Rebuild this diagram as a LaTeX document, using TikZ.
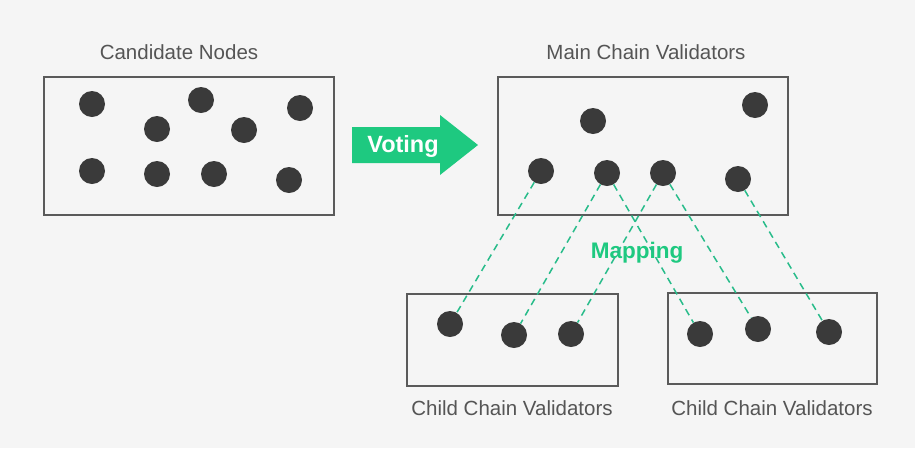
\documentclass[tikz,border=0pt]{standalone}
\usepackage{fontspec}
\setmainfont{Liberation Sans}
\usetikzlibrary{positioning}
\definecolor{bggray}{RGB}{245,245,245}
\definecolor{dotgray}{RGB}{58,58,58}
\definecolor{framegray}{RGB}{90,90,90}
\definecolor{textgray}{RGB}{85,85,85}
\definecolor{vgreen}{RGB}{30,201,128}
\definecolor{mapgreen}{RGB}{40,188,138}

\begin{document}
\begin{tikzpicture}[x=1pt,y=-1pt,
  dot/.style={fill=dotgray, circle, inner sep=0pt, minimum size=26pt},
  frame/.style={draw=framegray, line width=1.4pt, inner sep=0pt},
  title/.style={text=textgray, font=\fontsize{20.5}{24}\selectfont},
  mapline/.style={draw=mapgreen, dashed, dash pattern=on 7pt off 5pt, line width=1.5pt}]

\fill[bggray] (0,0) rectangle (915,448);
\useasboundingbox (0,0) rectangle (915,448);

% boxes
\node[frame, minimum width=290pt, minimum height=138pt] (candbox) at (189,146) {};
\node[frame, minimum width=290pt, minimum height=138pt] (mainbox) at (643,146) {};
\node[frame, minimum width=211pt, minimum height=92pt] (childbox1) at (512.5,340) {};
\node[frame, minimum width=209pt, minimum height=91pt] (childbox2) at (772.5,338.5) {};

% titles
\node[title] (candtitle) at (179,52) {Candidate Nodes};
\node[title] (maintitle) at (646,52) {Main Chain Validators};
\node[title] (childtitle1) at (512,408) {Child Chain Validators};
\node[title] (childtitle2) at (772,408) {Child Chain Validators};

% candidate nodes
\node[dot] (a1) at (92,104) {};
\node[dot] (a2) at (157,129) {};
\node[dot] (a3) at (201,100) {};
\node[dot] (a4) at (244,130) {};
\node[dot] (a5) at (300,108) {};
\node[dot] (a6) at (92,171) {};
\node[dot] (a7) at (157,174) {};
\node[dot] (a8) at (214,174) {};
\node[dot] (a9) at (289,180) {};

% voting arrow
\fill[vgreen] (352,127) -- (440,127) -- (440,115) -- (478,145) -- (440,175)
  -- (440,163) -- (352,163) -- cycle;
\node[text=white, font=\fontsize{23.5}{26}\selectfont\bfseries] (voting) at (403,146) {Voting};

% main chain validators
\node[dot] (m1) at (593,121) {};
\node[dot] (m2) at (755,105) {};
\node[dot] (m3) at (541,171) {};
\node[dot] (m4) at (607,173) {};
\node[dot] (m5) at (663,173) {};
\node[dot] (m6) at (738,179) {};

% child chain validators
\node[dot] (c1) at (450,324) {};
\node[dot] (c2) at (514,335) {};
\node[dot] (c3) at (571,334) {};
\node[dot] (d1) at (700,334) {};
\node[dot] (d2) at (758,329) {};
\node[dot] (d3) at (829,332) {};

% mapping
\node[text=vgreen, font=\fontsize{22.5}{24}\selectfont\bfseries] (mapping) at (637,253) {Mapping};

\draw[mapline] (m3) -- (c1);
\draw[mapline] (m4) -- (c2);
\draw[mapline] (m4) -- (d1);
\draw[mapline] (m5) -- (c3);
\draw[mapline] (m5) -- (d2);
\draw[mapline] (m6) -- (d3);

\end{tikzpicture}
\end{document}
